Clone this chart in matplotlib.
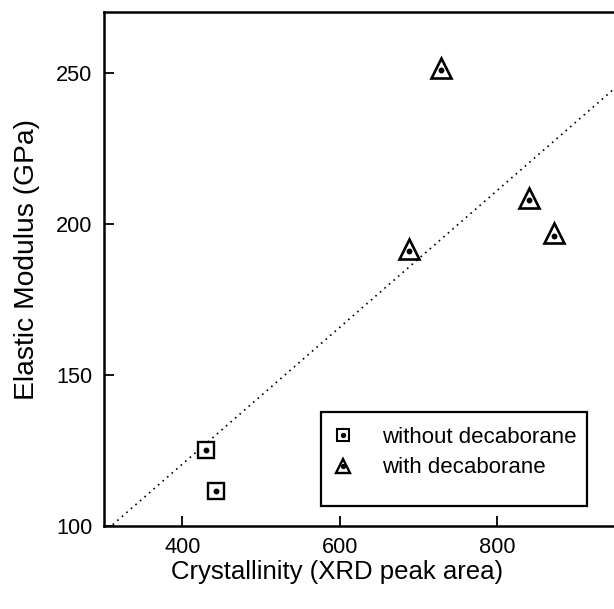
import numpy as np
import matplotlib
matplotlib.use("Agg")
import matplotlib.pyplot as plt
from matplotlib.lines import Line2D
from matplotlib.patches import Rectangle

plt.rcParams['font.family'] = ['Liberation Sans', 'DejaVu Sans']

# Data
x_without = [430, 443]
y_without = [125.0, 111.5]
x_with = [688, 728, 840, 872]
y_with = [191.7, 251.7, 208.5, 196.8]

label_without = "without decaborane"
label_with = "with decaborane"
xlabel = "Crystallinity (XRD peak area)"
ylabel = "Elastic Modulus (GPa)"
xticks = [400, 600, 800]
yticks = [100, 150, 200, 250]

W, H = 614, 609
fig = plt.figure(figsize=(W / 100, H / 100), dpi=100)
ax_left, ax_bot, ax_top = 103.7, 525.5, 12.3
ax_w = W - ax_left + 6
ax = fig.add_axes([ax_left / W, 1 - ax_bot / H, ax_w / W, (ax_bot - ax_top) / H])
ax.set_xlim(300, 300 + ax_w / 0.7875)
ax.set_ylim(100, 270)

# linear fit of all data (dotted)
xa = np.array(x_without + x_with, dtype=float)
ya = np.array(y_without + y_with, dtype=float)
k, b = np.polyfit(xa, ya, 1)
xl = np.array([300, 1000])
ax.plot(xl, k * xl + b, linestyle=(0, (1, 2.6)), color='black', lw=1.2, zorder=1)

sq_kw = dict(marker='s', markersize=12, markerfacecolor='white', markeredgecolor='black',
             markeredgewidth=1.7, linestyle='none', zorder=3)
tr_kw = dict(marker='^', markersize=14, markerfacecolor='white', markeredgecolor='black',
             markeredgewidth=1.9, linestyle='none', zorder=3)
dot_kw = dict(marker='o', markersize=3.2, color='black', linestyle='none', zorder=4)

ax.plot(x_without, y_without, **sq_kw)
ax.plot(x_without, y_without, **dot_kw)
ax.plot(x_with, y_with, **tr_kw)
ax.plot(x_with, np.array(y_with) - 0.8, **dot_kw)

for s in ['left', 'bottom', 'top']:
    ax.spines[s].set_linewidth(1.8)
ax.spines['right'].set_visible(False)

ax.set_xticks(xticks)
ax.set_yticks(yticks)
ax.tick_params(direction='in', length=7, width=1.3, labelsize=15.7, pad=8.5)
ax.tick_params(axis='y', pad=8)

ax.set_xlabel(xlabel, fontsize=18.5)
ax.xaxis.set_label_coords((336.7 - ax_left) / ax_w, (ax_bot - 572) / (ax_bot - ax_top))
ax.xaxis.label.set_va('center')
ax.set_ylabel(ylabel, fontsize=20.3)
ax.yaxis.set_label_coords((26.8 - ax_left) / ax_w, (ax_bot - 260) / (ax_bot - ax_top))
ax.yaxis.label.set_va('center')

dot_h = Line2D([], [], marker='o', markersize=2.8, color='black', linestyle='none')
h_sq = (Line2D([], [], marker='s', markersize=9.2, markerfacecolor='white', markeredgecolor='black',
               markeredgewidth=1.5, linestyle='none'), dot_h)
h_tr = (Line2D([], [], marker='^', markersize=10.5, markerfacecolor='white', markeredgecolor='black',
               markeredgewidth=1.7, linestyle='none'), dot_h)
leg = ax.legend([h_sq, h_tr], [label_without, label_with], loc='upper left',
                bbox_to_anchor=(332 / W, 1 - 427 / H), bbox_transform=fig.transFigure,
                fontsize=16, frameon=False,
                borderpad=0, labelspacing=0.42, handlelength=1.0, handletextpad=1.25,
                borderaxespad=0)
# legend frame
fig.patches.append(Rectangle((320.7 / W, 1 - 506 / H), 266.6 / W, 94.3 / H,
                             transform=fig.transFigure, fill=False, edgecolor='black',
                             linewidth=1.6, zorder=5))

fig.savefig("out.png", dpi=100)
